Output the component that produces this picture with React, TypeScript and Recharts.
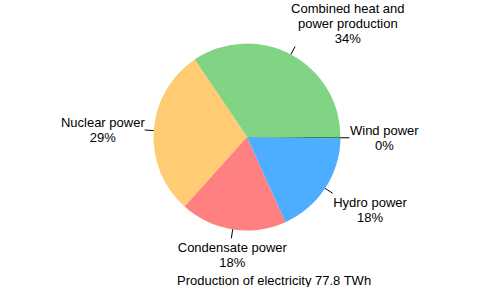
import React from "react";
import { PieChart, Pie, Cell } from "recharts";

const categories = [
  "Combined heat and power production",
  "Nuclear power",
  "Condensate power",
  "Hydro power",
  "Wind power",
];
const valuesTWh = [26.8, 22.5, 14.3, 14.0, 0.2];
const sliceColors = ["#80d484", "#ffcc73", "#ff8080", "#4daeff", "#2e8b57"];
const titleText = "Production of electricity 77.8 TWh";

const data = categories.map((name, i) => ({ name, value: valuesTWh[i] }));

const FONT = "13px 'Liberation Sans', Arial, sans-serif";
let ctx: CanvasRenderingContext2D | null = null;
function measure(t: string): number {
  if (!ctx && typeof document !== "undefined") {
    ctx = document.createElement("canvas").getContext("2d");
  }
  if (ctx) {
    ctx.font = FONT;
    return ctx.measureText(t).width;
  }
  return t.length * 6.8;
}

function wrap(text: string, maxChars: number): string[] {
  const words = text.split(" ");
  const lines: string[] = [];
  let cur = "";
  for (const w of words) {
    const next = cur ? cur + " " + w : w;
    if (next.length > maxChars && cur) {
      lines.push(cur);
      cur = w;
    } else cur = next;
  }
  if (cur) lines.push(cur);
  return lines;
}

const renderLabel = (props: any) => {
  const { cx, cy, midAngle, outerRadius, percent, name } = props;
  const RAD = Math.PI / 180;
  const c = Math.cos(-midAngle * RAD);
  const s = Math.sin(-midAngle * RAD);
  const x1 = cx + outerRadius * c;
  const y1 = cy + outerRadius * s;
  const x2 = cx + (outerRadius + 9) * c;
  const y2 = cy + (outerRadius + 9) * s;
  const lines = [...wrap(String(name), 17), Math.round(percent * 100) + "%"];
  const w = Math.max(...lines.map(measure));
  const upper = -s > 0.3;
  let left: number;
  if (c > 0.3) left = upper ? x2 - 4 : x2 + 0.5;
  else if (c < -0.3) left = x2 - w;
  else left = x2 + 1 - w / 2;
  const center = left + w / 2;
  const n = lines.length;
  let firstCenter: number;
  if (upper) firstCenter = y2 - 8 - (n - 1) * 15;
  else if (-s < -0.3) firstCenter = y2 + 9;
  else firstCenter = y2 - ((n - 1) * 15) / 2;
  return (
    <g>
      <line x1={x1} y1={y1} x2={x2} y2={y2} stroke="#000" strokeWidth={1} />
      <text
        x={center}
        textAnchor="middle"
        fill="#000"
        style={{ font: FONT }}
      >
        {lines.map((l, i) => (
          <tspan key={i} x={center} y={firstCenter + i * 15 + 4.5}>
            {l}
          </tspan>
        ))}
      </text>
    </g>
  );
};

export default function App() {
  return (
    <div style={{ position: "absolute", left: 0, top: 0, width: 493, height: 287, background: "#fff" }}>
      <PieChart width={493} height={287} margin={{ top: 0, right: 0, bottom: 0, left: 0 }}>
        <Pie
          data={data}
          dataKey="value"
          nameKey="name"
          cx={247}
          cy={137}
          outerRadius={93.5}
          startAngle={0}
          endAngle={360}
          stroke="none"
          label={renderLabel}
          labelLine={false}
          isAnimationActive={false}
        >
          {data.map((d, i) => (
            <Cell key={d.name} fill={sliceColors[i]} />
          ))}
        </Pie>
        <text x={177} y={285} fill="#000" style={{ font: FONT }}>
          {titleText}
        </text>
      </PieChart>
    </div>
  );
}
